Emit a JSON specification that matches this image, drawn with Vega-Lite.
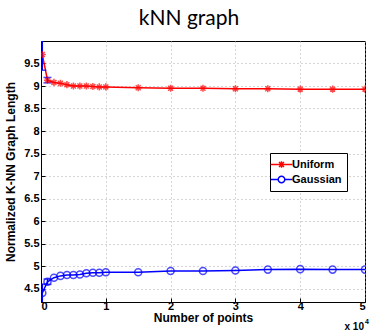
{
  "$schema": "https://vega.github.io/schema/vega-lite/v6.json",
  "width": 324,
  "height": 261,
  "autosize": "none",
  "padding": {"left": 41, "top": 41, "right": 5, "bottom": 30},
  "background": "white",
  "title": {"text": "kNN graph", "font": "Lato", "fontSize": 21, "fontWeight": "normal", "color": "#000", "anchor": "middle", "offset": 12, "dx": -14},
  "config": {
    "view": {"stroke": "#000", "strokeWidth": 1},
    "axis": {
      "labelFont": "Liberation Sans", "labelFontWeight": "bold", "labelFontSize": 11, "labelColor": "#000",
      "titleFont": "Liberation Sans", "titleFontWeight": "bold", "titleFontSize": 11, "titleColor": "#000",
      "domainColor": "#000", "tickColor": "#000", "tickSize": -4, "labelPadding": 6, "labelOverlap": false,
      "gridColor": "#aaa", "gridDash": [1, 3], "gridWidth": 1
    }
  },
  "datasets": {
    "series": [
      {"n": 200, "len": 9.70, "method": "Uniform"},
      {"n": 1000, "len": 9.13, "method": "Uniform"},
      {"n": 2000, "len": 9.08, "method": "Uniform"},
      {"n": 3000, "len": 9.06, "method": "Uniform"},
      {"n": 4000, "len": 9.03, "method": "Uniform"},
      {"n": 5000, "len": 9.00, "method": "Uniform"},
      {"n": 6000, "len": 9.00, "method": "Uniform"},
      {"n": 7000, "len": 9.00, "method": "Uniform"},
      {"n": 8000, "len": 8.99, "method": "Uniform"},
      {"n": 9000, "len": 8.98, "method": "Uniform"},
      {"n": 10000, "len": 8.98, "method": "Uniform"},
      {"n": 15000, "len": 8.96, "method": "Uniform"},
      {"n": 20000, "len": 8.95, "method": "Uniform"},
      {"n": 25000, "len": 8.95, "method": "Uniform"},
      {"n": 30000, "len": 8.94, "method": "Uniform"},
      {"n": 35000, "len": 8.94, "method": "Uniform"},
      {"n": 40000, "len": 8.93, "method": "Uniform"},
      {"n": 45000, "len": 8.93, "method": "Uniform"},
      {"n": 50000, "len": 8.93, "method": "Uniform"},
      {"n": 200, "len": 4.40, "method": "Gaussian"},
      {"n": 1000, "len": 4.65, "method": "Gaussian"},
      {"n": 2000, "len": 4.74, "method": "Gaussian"},
      {"n": 3000, "len": 4.78, "method": "Gaussian"},
      {"n": 4000, "len": 4.80, "method": "Gaussian"},
      {"n": 5000, "len": 4.80, "method": "Gaussian"},
      {"n": 6000, "len": 4.81, "method": "Gaussian"},
      {"n": 7000, "len": 4.84, "method": "Gaussian"},
      {"n": 8000, "len": 4.85, "method": "Gaussian"},
      {"n": 9000, "len": 4.85, "method": "Gaussian"},
      {"n": 10000, "len": 4.86, "method": "Gaussian"},
      {"n": 15000, "len": 4.86, "method": "Gaussian"},
      {"n": 20000, "len": 4.89, "method": "Gaussian"},
      {"n": 25000, "len": 4.89, "method": "Gaussian"},
      {"n": 30000, "len": 4.90, "method": "Gaussian"},
      {"n": 35000, "len": 4.92, "method": "Gaussian"},
      {"n": 40000, "len": 4.93, "method": "Gaussian"},
      {"n": 45000, "len": 4.92, "method": "Gaussian"},
      {"n": 50000, "len": 4.92, "method": "Gaussian"}
    ],
    "err": [
      {"n": 200, "len": 9.35, "hi": 10.05},
      {"n": 1000, "len": 9.07, "hi": 9.19},
      {"n": 200, "len": 4.16, "hi": 4.60},
      {"n": 1000, "len": 4.59, "hi": 4.71}
    ],
    "caps": [
      {"n": 200, "len": 9.35},
      {"n": 200, "len": 10.05},
      {"n": 1000, "len": 9.07},
      {"n": 1000, "len": 9.19},
      {"n": 200, "len": 4.16},
      {"n": 200, "len": 4.60},
      {"n": 1000, "len": 4.59},
      {"n": 1000, "len": 4.71}
    ],
    "note": [
      {"n": 50000, "len": 4.2, "base": "x 10", "exp": "4"}
    ]
  },
  "encoding": {
    "x": {
      "field": "n", "type": "quantitative",
      "scale": {"domain": [0, 50000], "nice": false, "zero": false},
      "axis": {"values": [0, 10000, 20000, 30000, 40000, 50000], "labelExpr": "datum.value / 10000", "labelPadding": 2, "labelOverlap": false, "title": "Number of points", "titlePadding": 1, "titleFontSize": 12}
    },
    "y": {
      "field": "len", "type": "quantitative",
      "scale": {"domain": [4.2, 10], "nice": false, "zero": false},
      "axis": {"values": [4.5, 5, 5.5, 6, 6.5, 7, 7.5, 8, 8.5, 9, 9.5], "labelExpr": "datum.value % 1 === 0 ? '' + datum.value : format(datum.value, '.1f')", "labelOverlap": false, "labelSeparation": 0, "labelBound": false, "title": "Normalized K-NN Graph Length", "titlePadding": 6, "titleFontSize": 12}
    }
  },
  "layer": [
    {
      "data": {"name": "series"},
      "mark": {"type": "line", "strokeWidth": 1.5, "clip": true},
      "encoding": {
        "color": {
          "field": "method", "type": "nominal",
          "scale": {"domain": ["Uniform", "Gaussian"], "range": ["#ff0000", "#0000ff"]},
          "legend": {
            "title": null, "orient": "none", "legendX": 229, "legendY": 112,
            "strokeColor": "#000", "fillColor": "#fff", "padding": 5,
            "labelFont": "Liberation Sans", "labelFontWeight": "bold", "labelFontSize": 11, "labelColor": "#000",
            "symbolSize": 120, "symbolStrokeWidth": 1.5, "rowPadding": 2,
            "encode": {
              "symbols": {
                "update": {
                  "shape": {"signal": "datum.value === 'Uniform' ? 'M-2,0L2,0M0,-0.6L0,0.6M-0.45,-0.45L0.45,0.45M-0.45,0.45L0.45,-0.45' : 'M-2,0L-0.6,0M0.6,0L2,0M-0.6,0A0.6,0.6 0 1,0 0.6,0A0.6,0.6 0 1,0 -0.6,0'"},
                  "fill": {"value": "transparent"}
                }
              }
            }
          }
        }
      }
    },
    {
      "data": {"name": "err"},
      "mark": {"type": "rule", "color": "#0000ff", "strokeWidth": 1.5, "clip": true},
      "encoding": {
        "y2": {"field": "hi"}
      }
    },
    {
      "data": {"name": "caps"},
      "mark": {"type": "tick", "orient": "horizontal", "color": "#0000ff", "size": 8, "thickness": 1.5, "clip": true}
    },
    {
      "data": {"name": "series"},
      "transform": [{"filter": "datum.method === 'Uniform'"}],
      "mark": {"type": "point", "filled": false, "strokeWidth": 1.5, "size": 50, "clip": true, "color": "#ff0000", "shape": "M-1,0L1,0M0,-1L0,1M-0.7,-0.7L0.7,0.7M-0.7,0.7L0.7,-0.7"}
    },
    {
      "data": {"name": "series"},
      "transform": [{"filter": "datum.method === 'Gaussian'"}],
      "mark": {"type": "point", "filled": false, "strokeWidth": 1.5, "size": 50, "clip": true, "color": "#0000ff", "shape": "circle"}
    },
    {
      "data": {"name": "note"},
      "mark": {"type": "text", "font": "Liberation Sans", "fontWeight": "bold", "fontSize": 10, "align": "right", "baseline": "middle", "dy": 25, "dx": -1, "color": "#000"},
      "encoding": {
        "text": {"field": "base"}
      }
    },
    {
      "data": {"name": "note"},
      "mark": {"type": "text", "font": "Liberation Sans", "fontWeight": "bold", "fontSize": 7, "align": "left", "baseline": "middle", "dy": 20, "dx": 0, "color": "#000"},
      "encoding": {
        "text": {"field": "exp"}
      }
    }
  ]
}
